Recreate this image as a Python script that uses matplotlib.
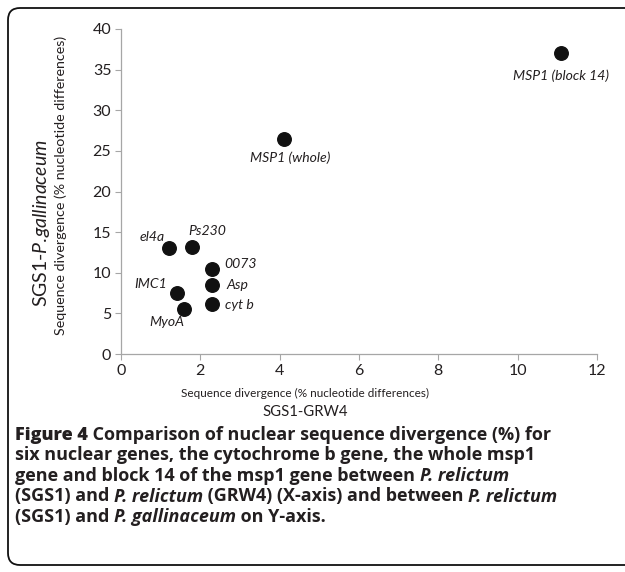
import matplotlib
matplotlib.use("Agg")
import matplotlib.pyplot as plt
from matplotlib.patches import PathPatch
from matplotlib.path import Path
from matplotlib.transforms import IdentityTransform

# data
genes = ["MSP1 (block 14)", "MSP1 (whole)", "el4a", "Ps230", "0073", "Asp", "cyt b", "IMC1", "MyoA"]
grw4 = [11.1, 4.1, 1.2, 1.8, 2.3, 2.3, 2.3, 1.4, 1.6]
gallinaceum = [37.0, 26.5, 13.0, 13.2, 10.5, 8.5, 6.1, 7.5, 5.6]
xticks = [0, 2, 4, 6, 8, 10, 12]
yticks = [0, 5, 10, 15, 20, 25, 30, 35, 40]

# label placement (offset in points, ha, va)
lab_pos = {
    "MSP1 (block 14)": ((0, -16), "center", "center"),
    "MSP1 (whole)": ((5, -14), "center", "center"),
    "el4a": ((-2.5, 8), "right", "center"),
    "Ps230": ((-3, 11), "left", "center"),
    "0073": ((9, 3.5), "left", "center"),
    "Asp": ((10, 0), "left", "center"),
    "cyt b": ((9, -0.5), "left", "center"),
    "IMC1": ((-6.5, 6.5), "right", "center"),
    "MyoA": ((-12.5, -9.5), "center", "center"),
}

W, H = 625, 572
plt.rcParams["mathtext.fontset"] = "custom"
plt.rcParams["mathtext.it"] = "Lato:italic"
plt.rcParams["mathtext.rm"] = "Lato"
fig = plt.figure(figsize=(W / 100, H / 100), dpi=100)
chart_font = "Lato"
txt_col = "#231f20"

# frame: left side with rounded corners, open to the right (pixels, origin bottom-left)
L, T, B, r = 8, H - 8, H - 565, 12
verts = [(W + 20, T), (L + r, T), (L, T), (L, T - r), (L, B + r), (L, B), (L + r, B), (W + 20, B)]
codes = [Path.MOVETO, Path.LINETO, Path.CURVE3, Path.CURVE3, Path.LINETO,
         Path.CURVE3, Path.CURVE3, Path.LINETO]
fig.patches.append(PathPatch(Path(verts, codes), transform=IdentityTransform(), fill=False,
                             edgecolor="#111111", linewidth=1.3, clip_on=False))

ax = fig.add_axes([121 / W, 1 - 354 / H, (597 - 121) / W, (354 - 29) / H])
ax.scatter(grw4, gallinaceum, s=95, color="#111111", zorder=3, clip_on=False)
for g, x, y in zip(genes, grw4, gallinaceum):
    off, ha, va = lab_pos[g]
    ax.annotate(g, (x, y), xytext=off, textcoords="offset points", ha=ha, va=va,
                fontstyle="italic", fontsize=10.1, family=chart_font, color=txt_col)

ax.set_xlim(0, 12)
ax.set_ylim(0, 40)
ax.set_xticks(xticks)
ax.set_yticks(yticks)
for s in ["top", "right"]:
    ax.spines[s].set_visible(False)
for s in ["left", "bottom"]:
    ax.spines[s].set_color("#a6a6a6")
    ax.spines[s].set_linewidth(0.9)
ax.tick_params(direction="out", length=4, width=0.8, color="#a6a6a6",
               labelsize=11.5, labelcolor=txt_col, pad=3)
for lbl in ax.get_xticklabels() + ax.get_yticklabels():
    lbl.set_family(chart_font)

# axis titles
fig.text(305 / W, 1 - 393 / H, "Sequence divergence (% nucleotide differences)",
         ha="center", va="center", fontsize=8.5, family=chart_font, color=txt_col)
fig.text(305 / W, 1 - 412 / H, "SGS1-GRW4", ha="center", va="center",
         fontsize=10.7, family=chart_font, color=txt_col)
fig.text(61 / W, 1 - 185 / H, "Sequence divergence (% nucleotide differences)",
         ha="center", va="center", rotation=90, fontsize=10.3, family=chart_font, color=txt_col)
fig.text(42 / W, 1 - 223 / H, "SGS1-$\\mathit{P.\\!gallinaceum}$", ha="center", va="center",
         rotation=90, fontsize=14, family=chart_font, color=txt_col)

# caption, drawn piece by piece so italics can sit inside bold text
caption = [
    [("Figure 4", "normal", "heavy"), (" Comparison of nuclear sequence divergence (%) for", "normal", "bold")],
    [("six nuclear genes, the cytochrome b gene, the whole msp1", "normal", "bold")],
    [("gene and block 14 of the msp1 gene between ", "normal", "bold"), ("P. relictum", "italic", "bold")],
    [("(SGS1) and ", "normal", "bold"), ("P. relictum", "italic", "bold"),
     (" (GRW4) (X-axis) and between ", "normal", "bold"), ("P. relictum", "italic", "bold")],
    [("(SGS1) and ", "normal", "bold"), ("P. gallinaceum", "italic", "bold"), (" on Y-axis.", "normal", "bold")],
]
cap_font = "Open Sans"
cap_size = 12.95
renderer = fig.canvas.get_renderer()


def width_px(s, style, weight):
    t1 = fig.text(0, 0, s + "|", fontstyle=style, fontweight=weight, family=cap_font, fontsize=cap_size)
    t2 = fig.text(0, 0, "|", fontstyle=style, fontweight=weight, family=cap_font, fontsize=cap_size)
    w = t1.get_window_extent(renderer).width - t2.get_window_extent(renderer).width
    t1.remove()
    t2.remove()
    return w


base_y = 440
for i, line in enumerate(caption):
    x = 15
    y = base_y + i * 20.5
    for s, style, weight in line:
        fig.text(x / W, 1 - y / H, s, fontstyle=style, fontweight=weight, family=cap_font,
                 fontsize=cap_size, color=txt_col, va="baseline", ha="left")
        x += width_px(s, style, weight)

fig.savefig("out.png", dpi=100)
